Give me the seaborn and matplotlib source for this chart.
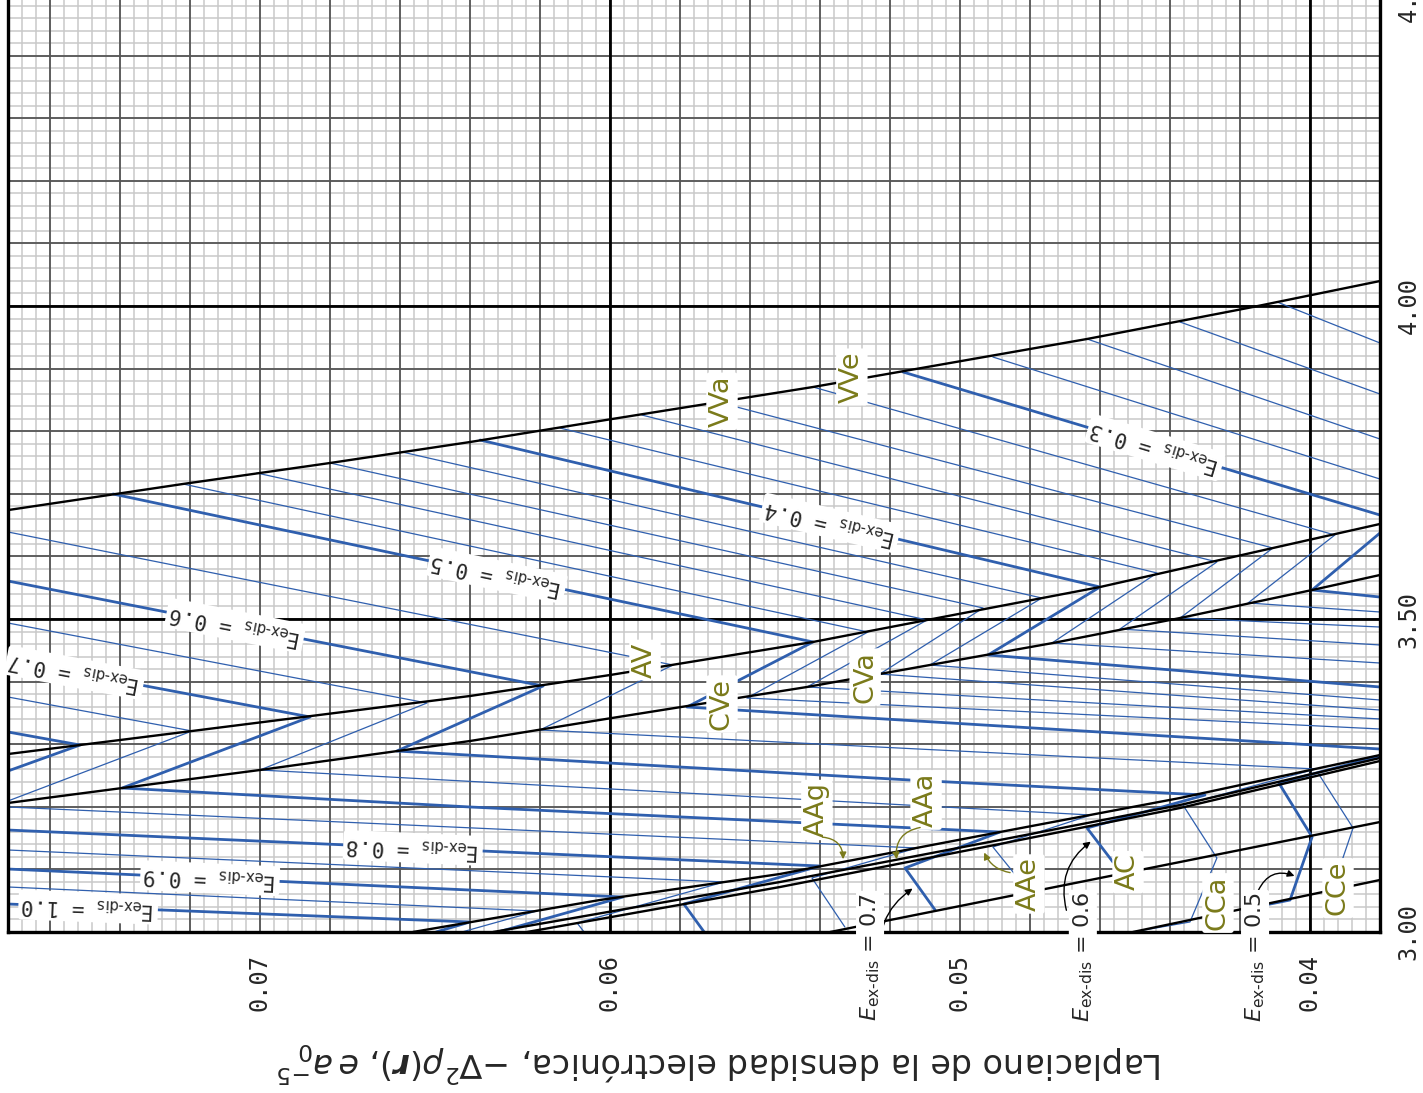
import numpy as np
import pandas as pd
import matplotlib
matplotlib.use("Agg")
import matplotlib.pyplot as plt
import seaborn as sns

sns.set_theme(style="white")
plt.rcParams["font.family"] = ["DejaVu Sans"]
plt.rcParams["mathtext.fontset"] = "dejavusans"

# ---- boundary curves between interaction types (x: laplacian, y: distance) ----
vv_x = [0.0772, 0.0722, 0.0680, 0.0640, 0.05994, 0.0542, 0.04637, 0.04163, 0.0380]
vv_y = [3.674, 3.7157, 3.7492, 3.7827, 3.8195, 3.8706, 3.9473, 3.9984, 4.0399]
av_x = [0.0772, 0.07194, 0.0640, 0.0600, 0.0542, 0.05094, 0.0460, 0.04106, 0.0380]
av_y = [3.2843, 3.3211, 3.377, 3.4105, 3.4633, 3.4984, 3.5511, 3.6134, 3.6518]
cv_x = [0.0772, 0.0700, 0.0640, 0.05994, 0.05437, 0.05086, 0.04734, 0.04371, 0.03994, 0.0380]
cv_y = [3.2061, 3.2588, 3.3051, 3.3419, 3.3914, 3.4265, 3.4617, 3.5016, 3.5463, 3.5703]
aag_x = [0.06563, 0.06029, 0.05514, 0.04886, 0.04371, 0.0380]
aag_y = [3.000, 3.0511, 3.0927, 3.1597, 3.2141, 3.2827]
aaa_x = [0.06334, 0.05514, 0.04886, 0.04371, 0.0380]
aaa_y = [3.000, 3.0799, 3.1470, 3.2029, 3.2780]
aae_x = [0.06237, 0.05514, 0.04886, 0.04371, 0.0380]
aae_y = [3.000, 3.0719, 3.1406, 3.1981, 3.2732]
ac_x = [0.05371, 0.0380]
ac_y = [3.000, 3.1757]
cc_x = [0.04506, 0.0380]
cc_y = [3.000, 3.0831]

# ---- iso-lines of E_ex-dis: one entry per drawn piece ----
piece_e = [0.22, 0.24, 0.26, 0.28, 0.30, 0.30, 0.32, 0.34, 0.36, 0.38, 0.40,
           0.42, 0.44, 0.46, 0.48, 0.48, 0.50, 0.50, 0.55, 0.60, 0.65, 0.70,
           0.75, 0.75, 0.80, 0.80, 0.85, 0.90, 0.95, 1.00]
piece_x = [
    [0.04094, 0.0380],
    [0.04371, 0.0380],
    [0.04637, 0.0380],
    [0.04906, 0.0380],
    [0.05163, 0.0380],
    [0.0380, 0.03994, 0.0380],
    [0.0542, 0.03929, 0.04177, 0.0380],
    [0.05671, 0.04106, 0.04371, 0.0380],
    [0.05909, 0.04266, 0.04543, 0.0380],
    [0.06143, 0.04437, 0.04737, 0.0380],
    [0.06371, 0.0460, 0.0492, 0.0380],
    [0.06594, 0.04766, 0.05086, 0.0380],
    [0.0680, 0.04934, 0.05229, 0.0380],
    [0.07009, 0.05094, 0.05437, 0.0380],
    [0.0722, 0.05263, 0.05609, 0.0380],
    [0.03977, 0.03877, 0.03937],
    [0.0742, 0.0542, 0.0578, 0.0380],
    [0.0380, 0.04089, 0.03994, 0.04057, 0.04171],
    [0.0772, 0.0582, 0.0620, 0.03983, 0.04363, 0.04266, 0.04343, 0.04506],
    [0.0772, 0.06191, 0.06609, 0.05143, 0.0430, 0.04637, 0.04563],
    [0.0772, 0.06523, 0.0700, 0.04626, 0.04906, 0.0480],
    [0.0772, 0.06857, 0.07394, 0.0640, 0.04886, 0.05157, 0.05071],
    [0.0772, 0.07194, 0.0772],
    [0.0772, 0.05123, 0.05423, 0.05329],
    [0.0772, 0.07514, 0.0772],
    [0.0772, 0.06751, 0.0540, 0.05789, 0.05731],
    [0.0772, 0.05674, 0.06094, 0.06074],
    [0.0772, 0.05963, 0.0632],
    [0.0772, 0.06209, 0.06423],
    [0.0772, 0.0640, 0.06497],
]
piece_y = [
    [4.0064, 3.9409],
    [3.9744, 3.8594],
    [3.9473, 3.7875],
    [3.9185, 3.7236],
    [3.8946, 3.6661],
    [3.6374, 3.5463, 3.5351],
    [3.8706, 3.6342, 3.5256, 3.5112],
    [3.8435, 3.6134, 3.5016, 3.4872],
    [3.8259, 3.5911, 3.484, 3.4585],
    [3.8051, 3.5735, 3.4617, 3.4297],
    [3.7859, 3.5511, 3.4425, 3.3914],
    [3.7668, 3.5335, 3.4265, 3.3706],
    [3.7492, 3.5176, 3.4121, 3.3546],
    [3.7332, 3.4984, 3.3914, 3.3403],
    [3.7157, 3.4792, 3.3738, 3.3243],
    [3.254, 3.1661, 3.0671],
    [3.6997, 3.4633, 3.3594, 3.2923],
    [3.2812, 3.238, 3.1518, 3.0511, 3.0383],
    [3.639, 3.4265, 3.3227, 3.2604, 3.2029, 3.1182, 3.016, 3.0],
    [3.5607, 3.393, 3.2891, 3.2428, 3.2188, 3.1661, 3.1118],
    [3.4936, 3.3658, 3.2588, 3.1869, 3.1358, 3.0623],
    [3.4345, 3.3435, 3.23, 3.1997, 3.1597, 3.1022, 3.0351],
    [3.3754, 3.3211, 3.2093],
    [3.1997, 3.1342, 3.0863, 3.008],
    [3.3195, 3.2987, 3.2572],
    [3.1629, 3.139, 3.1054, 3.0447, 3.0],
    [3.131, 3.0799, 3.0144, 3.0],
    [3.1006, 3.0559, 3.0],
    [3.0719, 3.0335, 3.0],
    [3.0447, 3.016, 3.0],
]

# labelled contour levels and where their labels sit (x of label centre)
label_e = [0.3, 0.4, 0.5, 0.6, 0.7, 0.8, 0.9, 1.0]
label_x = [0.04443, 0.05371, 0.06323, 0.07071, 0.07529, 0.06563, 0.07143, 0.07491]

# region names on the boundaries
region_names = ["VVa", "VVe", "AV", "CVe", "CVa", "AAg", "AAa", "AAe", "AC", "CCa", "CCe"]
region_x = [0.0568, 0.05309, 0.0590, 0.0568, 0.05271, 0.05409, 0.05097, 0.04803, 0.0452, 0.04263, 0.0392]
region_y = [3.8482, 3.8866, 3.4345, 3.3642, 3.4073, 3.1949, 3.2109, 3.0767, 3.0958, 3.0463, 3.0703]

BLUE = "#2f5fae"
OLIVE = "#7a7a1a"

fig = plt.figure(figsize=(14.23, 10.93), dpi=100)
ax = fig.add_axes([8 / 1423, (1093 - 932) / 1093, 1372 / 1423, 939 / 1093])
ax.set_xlim(0.0772, 0.0380)
ax.set_ylim(3.0, 4.5)

# graph-paper grid
xs_minor = np.arange(0.0380, 0.07725, 0.0004)
ys_minor = np.arange(3.0, 4.5001, 0.02)
ax.vlines(xs_minor, 3.0, 4.5, color="#c9c9c9", lw=1.1, zorder=0)
ax.hlines(ys_minor, 0.0380, 0.0772, color="#c9c9c9", lw=1.1, zorder=0)
ax.vlines(np.arange(0.0380, 0.07725, 0.002), 3.0, 4.5, color="#555555", lw=1.3, zorder=0.5)
ax.hlines(np.arange(3.0, 4.5001, 0.1), 0.0380, 0.0772, color="#555555", lw=1.3, zorder=0.5)
ax.vlines([0.04, 0.06], 3.0, 4.5, color="black", lw=2.0, zorder=0.6)
ax.hlines([3.5, 4.0], 0.0380, 0.0772, color="black", lw=2.0, zorder=0.6)


def frame(xl, yl, tag):
    rows = []
    for i, (xx, yy) in enumerate(zip(xl, yl)):
        for a, b in zip(xx, yy):
            rows.append((f"{tag}{i}", a, b))
    return pd.DataFrame(rows, columns=["seg", "x", "y"])


def draw(df, color, lw, z):
    sns.lineplot(data=df, x="x", y="y", units="seg", estimator=None, sort=False,
                 color=color, lw=lw, ax=ax, zorder=z, legend=False)


is_major = [round(e * 10, 6) == round(e * 10) for e in piece_e]
thin = [i for i, m in enumerate(is_major) if not m]
thick = [i for i, m in enumerate(is_major) if m]
draw(frame([piece_x[i] for i in thin], [piece_y[i] for i in thin], "t"), BLUE, 0.9, 2)
draw(frame([piece_x[i] for i in thick], [piece_y[i] for i in thick], "T"), BLUE, 2.0, 2.2)

bx = [vv_x, av_x, cv_x, aag_x, aaa_x, aae_x, ac_x, cc_x]
by = [vv_y, av_y, cv_y, aag_y, aaa_y, aae_y, ac_y, cc_y]
draw(frame(bx, by, "b"), "black", 1.7, 3)

# frame
ax.spines["top"].set_visible(False)
for side in ["left", "bottom", "right"]:
    ax.spines[side].set_visible(True)
    ax.spines[side].set_color("black")
    ax.spines[side].set_linewidth(2.4)
    ax.spines[side].set_zorder(5)

ax.set_xticks([0.07, 0.06, 0.05, 0.04])
ax.set_xticklabels(["0.07", "0.06", "0.05", "0.04"], rotation=90,
                   fontfamily="DejaVu Sans Mono", fontsize=17)
ax.yaxis.tick_right()
ax.set_yticks([3.0, 3.5, 4.0, 4.5])
ax.set_yticklabels(["3.00", "3.50", "4.00", "4.50"], rotation=90, va="center",
                   fontfamily="DejaVu Sans Mono", fontsize=17)
ax.tick_params(axis="x", length=0, pad=16)
ax.tick_params(axis="y", length=0, pad=12)
ax.set_ylabel("")
ax.set_xlabel(r"Laplaciano de la densidad electrónica, $-\nabla^2\rho(\boldsymbol{r})$, $e\,a_0^{-5}$",
              fontsize=24, rotation=180)
ax.xaxis.set_label_coords((720 - 8) / 1372, (932 - 1062) / 939)
ax.xaxis.label.set_va("center")

fig.canvas.draw()


def point_on_level(e, xq):
    """Point and on-screen direction of the first piece of level e spanning xq."""
    for k, ee in enumerate(piece_e):
        if abs(ee - e) > 1e-9:
            continue
        xx, yy = piece_x[k], piece_y[k]
        for j in range(len(xx) - 1):
            lo, hi = sorted((xx[j], xx[j + 1]))
            if lo <= xq <= hi and xx[j] != xx[j + 1]:
                t = (xq - xx[j]) / (xx[j + 1] - xx[j])
                yq = yy[j] + t * (yy[j + 1] - yy[j])
                p0 = ax.transData.transform((xx[j], yy[j]))
                p1 = ax.transData.transform((xx[j + 1], yy[j + 1]))
                ang = np.degrees(np.arctan2(p1[1] - p0[1], p1[0] - p0[0]))
                return yq, ang
    return None, 0.0


box = dict(boxstyle="round,pad=0.15", fc="white", ec="none")
for e, xq in zip(label_e, label_x):
    yq, ang = point_on_level(e, xq)
    ax.text(xq, yq, r"E$_\text{ex-dis}$ = " + f"{e:.1f}", rotation=ang + 180,
            rotation_mode="anchor", ha="center", va="center", fontsize=15,
            fontfamily="DejaVu Sans Mono", bbox=box, zorder=6)

for name, xx, yy in zip(region_names, region_x, region_y):
    ax.text(xx, yy, name, rotation=90, ha="center", va="center", fontsize=19.5,
            color=OLIVE, bbox=dict(boxstyle="round,pad=0.1", fc="white", ec="none"), zorder=6)

arrow_olive = dict(arrowstyle="-|>", color=OLIVE, lw=1.0, mutation_scale=10)
ax.annotate("", xy=(0.05334, 3.1118), xytext=(0.0540, 3.1518),
            arrowprops=dict(connectionstyle="arc3,rad=-0.5", **arrow_olive), zorder=6)
ax.annotate("", xy=(0.0518, 3.1118), xytext=(0.05106, 3.1677),
            arrowprops=dict(connectionstyle="arc3,rad=0.5", **arrow_olive), zorder=6)
ax.annotate("", xy=(0.04934, 3.131), xytext=(0.04849, 3.0942),
            arrowprops=dict(connectionstyle="arc3,rad=-0.3", **arrow_olive), zorder=6)

# level labels under the axis with arrows to their segments
bottom_e = [0.7, 0.6, 0.5]
bottom_x = [0.05257, 0.04649, 0.04157]
arrow_tail = [(0.0522, 2.9425), (0.04694, 3.0304), (0.04151, 3.0623)]
arrow_head = [(0.05129, 3.0719), (0.0462, 3.147), (0.04037, 3.0879)]
arrow_rad = [-0.35, -0.35, -0.5]
arrow_k = dict(arrowstyle="-|>", color="black", lw=1.0, mutation_scale=10)
for e, tx, tail, head, rad in zip(bottom_e, bottom_x, arrow_tail, arrow_head, arrow_rad):
    ax.annotate("", xy=head, xytext=tail, annotation_clip=False,
                arrowprops=dict(connectionstyle=f"arc3,rad={rad}", **arrow_k), zorder=6)
    ax.text(tx, 2.960, r"$E_\text{ex-dis}$ = " + f"{e:.1f}", rotation=90, ha="center", va="center",
            fontsize=16, bbox=dict(boxstyle="round,pad=0.1", fc="white", ec="none"),
            zorder=7, clip_on=False)

fig.savefig("out.png", dpi=100)
